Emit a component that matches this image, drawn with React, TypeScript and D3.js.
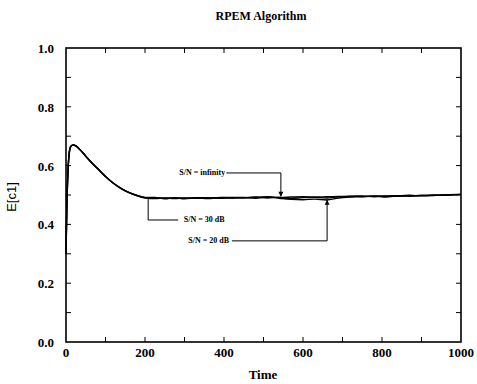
import { useEffect, useRef } from 'react';
import * as d3 from 'd3';

// Time samples shared by the three runs
const time = [0, 2, 5, 8, 12, 18, 25, 35, 50, 65, 80, 100, 120, 140, 160, 180, 200, 225, 250, 275, 300, 330, 360, 390, 420, 450, 480, 510, 540, 570, 600, 630, 660, 690, 720, 750, 780, 810, 840, 870, 900, 930, 960, 1000];

const snrInfinity = [0.3, 0.45, 0.58, 0.64, 0.665, 0.67, 0.667, 0.655, 0.632, 0.61, 0.59, 0.563, 0.54, 0.522, 0.508, 0.498, 0.492, 0.49, 0.489, 0.49, 0.489, 0.491, 0.49, 0.491, 0.492, 0.491, 0.492, 0.493, 0.492, 0.493, 0.494, 0.493, 0.494, 0.495, 0.496, 0.495, 0.496, 0.497, 0.496, 0.497, 0.498, 0.499, 0.5, 0.502];
const snr30 = [0.3, 0.45, 0.58, 0.64, 0.665, 0.67, 0.667, 0.655, 0.632, 0.61, 0.59, 0.563, 0.54, 0.522, 0.508, 0.497, 0.49, 0.488, 0.49, 0.488, 0.49, 0.489, 0.491, 0.489, 0.491, 0.49, 0.493, 0.49, 0.492, 0.488, 0.491, 0.492, 0.49, 0.494, 0.495, 0.497, 0.494, 0.496, 0.498, 0.496, 0.499, 0.498, 0.501, 0.502];
const snr20 = [0.3, 0.45, 0.58, 0.64, 0.665, 0.67, 0.667, 0.655, 0.632, 0.61, 0.59, 0.563, 0.54, 0.522, 0.508, 0.499, 0.491, 0.492, 0.487, 0.491, 0.487, 0.49, 0.488, 0.492, 0.489, 0.492, 0.489, 0.494, 0.489, 0.485, 0.484, 0.486, 0.483, 0.49, 0.493, 0.494, 0.497, 0.493, 0.497, 0.499, 0.497, 0.5, 0.499, 0.502];

const xTickLabels = [0, 200, 400, 600, 800, 1000];
const yTickLabels = [0.0, 0.2, 0.4, 0.6, 0.8, 1.0];

const font = '"Liberation Serif", serif';

export default function App() {
    const svgRef = useRef<SVGSVGElement>(null);

    useEffect(() => {
        if (!svgRef.current) return;
        const svg = d3.select(svgRef.current);
        svg.selectAll('*').remove();

        const left = 66, right = 461, top = 48, bottom = 342;
        const x = d3.scaleLinear().domain([0, 1000]).range([left, right]);
        const y = d3.scaleLinear().domain([0, 1]).range([bottom, top]);

        // Title and axis labels
        svg.append('text')
            .attr('x', 261).attr('y', 20)
            .attr('text-anchor', 'middle')
            .style('font-family', font).style('font-size', '12px').style('font-weight', 'bold')
            .text('RPEM Algorithm');

        svg.append('text')
            .attr('transform', 'translate(16,197) rotate(-90)')
            .attr('text-anchor', 'middle')
            .style('font-family', '"Liberation Sans", sans-serif').style('font-size', '13px')
            .text('E[c1]');

        svg.append('text')
            .attr('x', 263).attr('y', 379)
            .attr('text-anchor', 'middle')
            .style('font-family', font).style('font-size', '13px').style('font-weight', 'bold')
            .text('Time');

        // Frame
        svg.append('rect')
            .attr('x', left).attr('y', top)
            .attr('width', right - left).attr('height', bottom - top)
            .attr('fill', 'none').attr('stroke', 'black').attr('stroke-width', 1.6);

        // Inward ticks
        const tick = 5;
        const ticks = svg.append('g').attr('stroke', 'black').attr('stroke-width', 1);
        d3.range(100, 1000, 100).forEach(t => {
            ticks.append('line').attr('x1', x(t)).attr('x2', x(t)).attr('y1', bottom).attr('y2', bottom - tick);
            ticks.append('line').attr('x1', x(t)).attr('x2', x(t)).attr('y1', top).attr('y2', top + tick);
        });
        d3.range(1, 10).map(i => i / 10).forEach(v => {
            ticks.append('line').attr('x1', left).attr('x2', left + tick).attr('y1', y(v)).attr('y2', y(v));
            ticks.append('line').attr('x1', right).attr('x2', right - tick).attr('y1', y(v)).attr('y2', y(v));
        });

        // Tick labels
        svg.append('g').selectAll('text').data(xTickLabels).enter().append('text')
            .attr('x', d => x(d)).attr('y', bottom + 15)
            .attr('text-anchor', 'middle')
            .style('font-family', font).style('font-size', '13px').style('font-weight', 'bold')
            .text(d => String(d));

        svg.append('g').selectAll('text').data(yTickLabels).enter().append('text')
            .attr('x', left - 12).attr('y', d => y(d) + 2)
            .attr('text-anchor', 'end')
            .attr('dominant-baseline', 'middle')
            .style('font-family', font).style('font-size', '13px').style('font-weight', 'bold')
            .text(d => d.toFixed(1));

        // Curves
        const line = d3.line<number>()
            .x((_, i) => x(time[i]))
            .y(d => y(d))
            .curve(d3.curveMonotoneX);

        [snrInfinity, snr30, snr20].forEach(series => {
            svg.append('path')
                .attr('d', line(series) as string)
                .attr('fill', 'none')
                .attr('stroke', 'black')
                .attr('stroke-width', 1.4);
        });

        // Annotations
        const ann = svg.append('g');
        const annText = (tx: number, ty: number, anchor: string, label: string) =>
            ann.append('text')
                .attr('x', x(tx)).attr('y', y(ty))
                .attr('text-anchor', anchor)
                .attr('dominant-baseline', 'middle')
                .style('font-family', font).style('font-size', '8px').style('font-weight', 'bold')
                .text(label);
        const path = (pts: [number, number][]) =>
            ann.append('path')
                .attr('d', d3.line()(pts.map(p => [x(p[0]), y(p[1])]))!)
                .attr('fill', 'none').attr('stroke', 'black').attr('stroke-width', 1);
        const arrow = (t: number, v: number, dir: number) =>
            ann.append('path')
                .attr('d', `M${x(t)},${y(v)} l-2.5,${dir * 5} l5,0 Z`)
                .attr('fill', 'black');

        // S/N = infinity
        annText(403, 0.575, 'end', 'S/N = infinity');
        path([[406, 0.575], [544, 0.575], [544, 0.496]]);
        arrow(544, 0.494, -1);

        // S/N = 30 dB
        annText(298, 0.415, 'start', 'S/N = 30 dB');
        path([[208, 0.49], [208, 0.415], [284, 0.415]]);

        // S/N = 20 dB
        annText(413, 0.344, 'end', 'S/N = 20 dB');
        path([[420, 0.344], [661, 0.344], [661, 0.486]]);
        arrow(661, 0.484, 1);
    }, []);

    return (
        <div style={{ width: 477, height: 384 }}>
            <svg ref={svgRef} width={477} height={384} style={{ position: 'absolute', left: 0, top: 0 }} />
        </div>
    );
}
